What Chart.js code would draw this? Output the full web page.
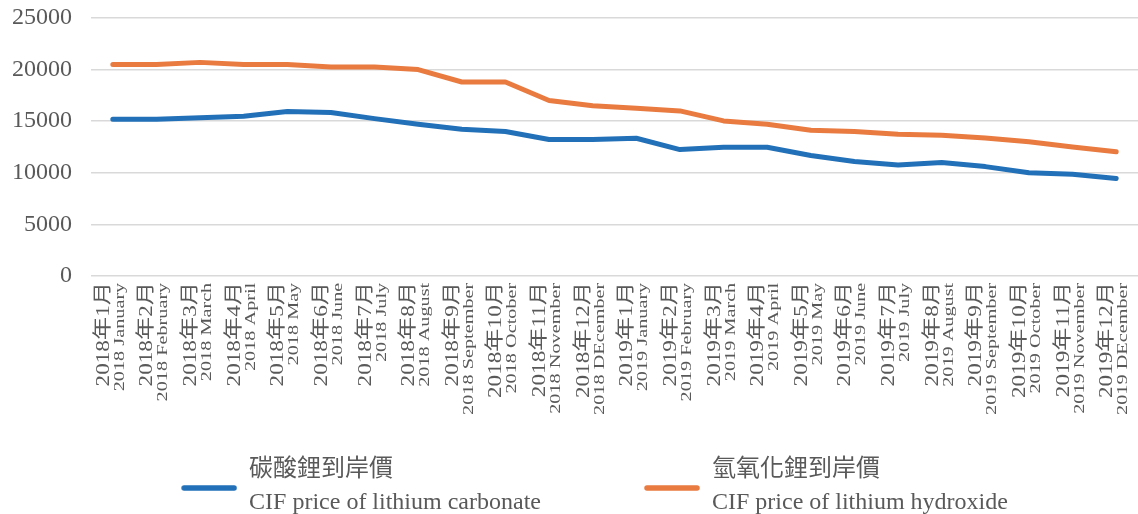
<!DOCTYPE html>
<html>
<head>
<meta charset="utf-8">
<script src="https://cdn.jsdelivr.net/npm/chart.js@4.4.1/dist/chart.umd.min.js"></script>
<style>
html,body{margin:0;padding:0;background:#fff;}
#wrap{width:1138px;height:514px;}
</style>
</head>
<body>
<div id="wrap"><canvas id="c" width="1138" height="514"></canvas></div>
<script>
const labelsZh = ['2018年1月','2018年2月','2018年3月','2018年4月','2018年5月','2018年6月','2018年7月','2018年8月','2018年9月','2018年10月','2018年11月','2018年12月',
  '2019年1月','2019年2月','2019年3月','2019年4月','2019年5月','2019年6月','2019年7月','2019年8月','2019年9月','2019年10月','2019年11月','2019年12月'];
const labelsEn = ['2018 January','2018 February','2018 March','2018 April','2018 May','2018 June','2018 July','2018 August','2018 September','2018 October','2018 November','2018 DEcember',
  '2019 January','2019 February','2019 March','2019 April','2019 May','2019 June','2019 July','2019 August','2019 September','2019 October','2019 November','2019 DEcember'];
const carbonate = [15200,15200,15330,15490,15950,15850,15250,14700,14220,14000,13230,13230,13350,12250,12480,12480,11680,11100,10750,11000,10600,10000,9870,9450];
const hydroxide = [20500,20500,20700,20500,20500,20250,20250,20000,18800,18800,17000,16500,16250,16000,15030,14700,14130,14000,13740,13640,13380,13000,12500,12030];
const seriesZh = ['碳酸鋰到岸價','氫氧化鋰到岸價'];
const seriesEn = ['CIF price of lithium carbonate','CIF price of lithium hydroxide'];
const yTicks = [0,5000,10000,15000,20000,25000];

const BLUE = '#2270B8', ORANGE = '#E97B40', GREY = '#595959';
const FAMILY = "'Liberation Serif', 'Noto Sans CJK TC', serif";
const LABEL_STRETCH = {x: 1.22, x2: 1.35};

// category scale whose rotated labels are stretched along their length
class StretchCategoryScale extends Chart.CategoryScale {
  static id = 'stretchCategory';
  static defaults = Chart.CategoryScale.defaults;
  drawLabels(chartArea) {
    const k = LABEL_STRETCH[this.id] || 1;
    const ctx = this.ctx;
    const y0 = this.chart.chartArea.bottom;
    ctx.save();
    ctx.translate(0, y0); ctx.scale(1, k); ctx.translate(0, -y0);
    super.drawLabels(chartArea);
    ctx.restore();
  }
}
Chart.register(StretchCategoryScale);

const canvas = document.getElementById('c');
const ctx2d = canvas.getContext('2d');
// multi-line legend items: measure the longest line
const origMeasure = ctx2d.measureText;
ctx2d.measureText = function (t) {
  if (Array.isArray(t)) {
    let best = null;
    for (const s of t) { const m = origMeasure.call(this, s); if (!best || m.width > best.width) best = m; }
    return best;
  }
  return origMeasure.call(this, t);
};

// let the two-line legend items draw below the one-line legend box
const legendClipPlugin = {
  id: 'legendClip',
  beforeDraw(chart) {
    if (chart.legend) { chart.legend.bottom = chart.height; chart.legend.height = chart.legend.bottom - chart.legend.top; }
  }
};

const SW_W = 149;
function lineSwatch(color) {
  const c = document.createElement('canvas');
  c.width = SW_W; c.height = 46;
  const g = c.getContext('2d');
  g.strokeStyle = color; g.lineWidth = 5.5; g.lineCap = 'round';
  g.beginPath(); g.moveTo(SW_W - 53, 41); g.lineTo(SW_W - 3, 41); g.stroke();
  return c;
}

const chart = new Chart(canvas, {
  type: 'line',
  data: {
    labels: labelsZh,
    datasets: [
      {label: seriesZh[0], data: carbonate, borderColor: BLUE, backgroundColor: BLUE, borderWidth: 5, pointRadius: 0, tension: 0, borderJoinStyle: 'round', borderCapStyle: 'round', swatch: lineSwatch(BLUE), en: seriesEn[0]},
      {label: seriesZh[1], data: hydroxide, borderColor: ORANGE, backgroundColor: ORANGE, borderWidth: 5, pointRadius: 0, tension: 0, borderJoinStyle: 'round', borderCapStyle: 'round', swatch: lineSwatch(ORANGE), en: seriesEn[1]}
    ]
  },
  plugins: [legendClipPlugin],
  options: {
    responsive: false,
    animation: false,
    layout: {padding: {left: -50, right: -8, top: 18, bottom: 22}},
    plugins: {
      tooltip: {enabled: false},
      legend: {
        position: 'bottom',
        labels: {
          usePointStyle: true,
          pointStyleWidth: SW_W,
          padding: 10,
          color: GREY,
          font: {family: FAMILY, size: 24, lineHeight: 1.375},
          generateLabels: (ch) => ch.data.datasets.map((d, i) => ({
            text: [d.label, d.en],
            fillStyle: d.borderColor,
            strokeStyle: d.borderColor,
            lineWidth: 0,
            pointStyle: d.swatch,
            fontColor: GREY,
            hidden: false,
            datasetIndex: i
          }))
        }
      }
    },
    scales: {
      x: {
        type: 'stretchCategory',
        labels: labelsZh,
        offset: true,
        position: 'bottom',
        grid: {display: false, drawTicks: false},
        border: {display: false},
        afterFit: (s) => { s.height = 172; s.paddingLeft = 0; s.paddingRight = 0; },
        ticks: {autoSkip: false, minRotation: 90, maxRotation: 90, labelOffset: -9, padding: 5, color: GREY, font: {family: FAMILY, size: 19}}
      },
      x2: {
        type: 'stretchCategory',
        labels: labelsEn,
        offset: true,
        position: {y: 0},
        grid: {display: false, drawTicks: false},
        border: {display: false},
        afterFit: (s) => { s.paddingLeft = 0; s.paddingRight = 0; },
        ticks: {autoSkip: false, minRotation: 90, maxRotation: 90, labelOffset: 7, padding: 5, color: GREY, font: {family: FAMILY, size: 15}}
      },
      y: {
        min: 0, max: 25000,
        afterBuildTicks: (s) => { s.ticks = yTicks.map(v => ({value: v})); },
        afterFit: (s) => { s.width = 141; s.paddingTop = 0; },
        grid: {color: '#D9D9D9', lineWidth: 1.5, drawTicks: false},
        border: {display: false},
        ticks: {autoSkip: false, padding: 19, color: GREY, font: {family: FAMILY, size: 24}, callback: (v) => String(v)}
      }
    }
  }
});
</script>
</body>
</html>
